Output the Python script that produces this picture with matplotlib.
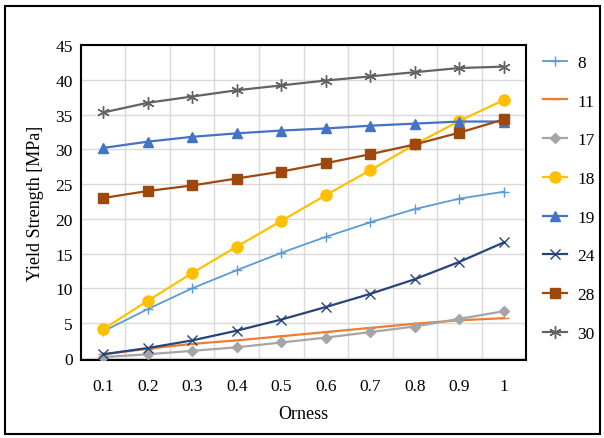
import numpy as np
import matplotlib
matplotlib.use('Agg')
import matplotlib.pyplot as plt
from matplotlib.patches import Rectangle

# categorie dell'asse x (Orness)
orness = ['0.1', '0.2', '0.3', '0.4', '0.5', '0.6', '0.7', '0.8', '0.9', '1']

# valori (Yield Strength, MPa)
s8 = [3.8, 7.0, 10.0, 12.6, 15.1, 17.4, 19.5, 21.4, 22.9, 23.9]
s11 = [0.5, 1.3, 2.0, 2.5, 3.1, 3.7, 4.3, 4.9, 5.4, 5.7]
s17 = [0.1, 0.5, 1.0, 1.5, 2.2, 2.9, 3.7, 4.5, 5.6, 6.7]
s18 = [4.1, 8.2, 12.2, 16.0, 19.7, 23.4, 27.0, 30.7, 34.1, 37.1]
s19 = [30.2, 31.1, 31.8, 32.3, 32.7, 33.0, 33.4, 33.7, 34.0, 34.0]
s24 = [0.5, 1.4, 2.5, 3.9, 5.5, 7.3, 9.2, 11.3, 13.8, 16.6]
s28 = [23.0, 24.0, 24.8, 25.8, 26.8, 28.0, 29.3, 30.7, 32.4, 34.3]
s30 = [35.3, 36.7, 37.6, 38.5, 39.2, 39.9, 40.5, 41.1, 41.7, 41.9]

series_names = ['8', '11', '17', '18', '19', '24', '28', '30']

plt.rcParams['font.family'] = ['Liberation Serif', 'DejaVu Serif']

fig = plt.figure(figsize=(6.04, 4.39), dpi=100)
ax = fig.add_axes([0.134, 0.178, 0.737, 0.717])

x = np.arange(len(orness))

# stile di ogni serie (colori tipo Excel)
styles = [
    (s8,  '#5B9BD5', '+', 7, 1.0, 1.3),
    (s11, '#ED7D31', '_', 7, 1.0, 1.6),
    (s17, '#A5A5A5', 'D', 5, 1.0, 1.6),
    (s18, '#FFC000', 'o', 8, 1.0, 1.6),
    (s19, '#4472C4', '^', 7, 1.0, 1.6),
    (s24, '#264478', 'x', 7, 1.0, 1.6),
    (s28, '#9E480E', 's', 7, 1.0, 1.6),
    (s30, '#636363', (6, 2, 0), 9, 1.0, 1.6),
]

for (vals, col, mk, ms, mew, lw), name in zip(styles, series_names):
    ax.plot(x, vals, color=col, marker=mk, markersize=ms, markeredgewidth=mew,
            linewidth=lw, label=name, zorder=3)

ax.set_xlim(-0.5, len(orness) - 0.5)
ax.set_ylim(-0.3, 45)
ax.set_yticks(np.arange(0, 46, 5))
ax.set_xticks(x)
ax.set_xticklabels(orness)

# griglia: orizzontale ogni 5, verticale tra le categorie
ax.set_xticks(np.arange(0.5, len(orness) - 1, 1), minor=True)
ax.grid(True, which='major', axis='y', color='#D9D9D9', linewidth=1.0, zorder=0)
ax.grid(True, which='minor', axis='x', color='#D9D9D9', linewidth=1.0, zorder=0)
ax.set_axisbelow(True)

ax.tick_params(which='both', length=0)
ax.tick_params(axis='x', pad=13, labelsize=12.5)
ax.tick_params(axis='y', pad=6, labelsize=12.5)

for sp in ax.spines.values():
    sp.set_color('black')
    sp.set_linewidth(1.5)

ax.set_xlabel('Orness', fontsize=13, labelpad=8)
ax.set_ylabel('Yield Strength [MPa]', fontsize=13, labelpad=8)

ax.legend(loc='upper left', bbox_to_anchor=(0.884, 0.893), bbox_transform=fig.transFigure,
          frameon=False, fontsize=12.5, labelspacing=1.3, handlelength=1.4,
          handletextpad=0.6, borderpad=0)

# cornice esterna
fig.patches.append(Rectangle((0.008, 0.008), 0.985, 0.975, transform=fig.transFigure,
                             fill=False, edgecolor='black', linewidth=1.5))

fig.savefig('out.png', dpi=100)
